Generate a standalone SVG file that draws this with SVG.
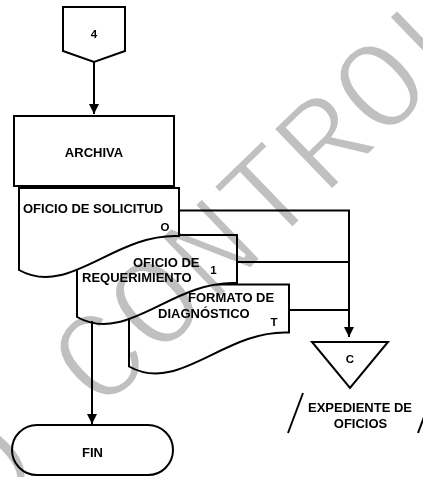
<svg xmlns="http://www.w3.org/2000/svg" width="423" height="477" viewBox="0 0 423 477">
<defs>
<style>
.sh{fill:#fff;stroke:#000;stroke-width:2;stroke-linejoin:miter}
.ln{fill:none;stroke:#000;stroke-width:2}
.t{font-family:"Liberation Sans",Arial,sans-serif;font-weight:bold;font-size:13px;fill:#000}
.s{font-size:11.5px}
.m{text-anchor:middle}
.wm{font-family:"Liberation Mono","Courier New",monospace;font-size:130px;fill:#c0c0c0;stroke:#fff;stroke-width:3.5}
</style>
<marker id="ah" viewBox="0 0 10 10" refX="10" refY="5" markerWidth="10" markerHeight="10" markerUnits="userSpaceOnUse" orient="auto">
<path d="M0,0 L10,5 L0,10 Z" fill="#000"/>
</marker>
</defs>
<rect width="423" height="477" fill="#fff"/>
<g id="n-conector4">
<polygon class="sh" points="63,7 125,7 125,51 94,62 63,51"/>
<text class="t s m" x="94" y="37.5">4</text>
</g>
<g id="n-archiva">
<rect class="sh" x="14" y="116" width="160" height="70"/>
<text class="t m" x="94" y="156.5">ARCHIVA</text>
</g>
<g id="n-formato">
<path class="sh" d="M129,284.5 H289 V332.5 C224,329.5 179,394.5 129,366.5 Z"/>
<text class="t" x="188" y="302">FORMATO DE</text>
<text class="t" x="158" y="318">DIAGNÓSTICO</text>
<text class="t s m" x="274" y="325.5">T</text>
</g>
<g id="n-requerimiento">
<path class="sh" d="M77,235 H237 V283 C172,280 127,345 77,317 Z"/>
<text class="t" x="133" y="266.5">OFICIO DE</text>
<text class="t" x="82" y="282.3">REQUERIMIENTO</text>
<text class="t s m" x="213.5" y="274">1</text>
</g>
<g id="n-solicitud">
<path class="sh" d="M19,188 H179 V236 C114,233 69,298 19,270 Z"/>
<text class="t" x="23" y="212.5">OFICIO DE SOLICITUD</text>
<text class="t s m" x="165" y="230.5">O</text>
</g>
<g id="connectors">
<path class="ln" d="M94,62 V114" marker-end="url(#ah)"/>
<path class="ln" d="M179,210.5 H349 V337" marker-end="url(#ah)"/>
<path class="ln" d="M237,262 H349"/>
<path class="ln" d="M289,310 H349"/>
<path class="ln" d="M92,321 V424" marker-end="url(#ah)"/>
</g>
<g id="n-archivo-c">
<polygon class="sh" points="312,342 388,342 350,388"/>
<text class="t s m" x="350" y="362.7">C</text>
<line class="ln" x1="303" y1="393" x2="288" y2="433"/>
<line class="ln" x1="433" y1="393" x2="418" y2="433"/>
<text class="t m" x="360" y="411.5">EXPEDIENTE DE</text>
<text class="t m" x="360.5" y="427.5">OFICIOS</text>
</g>
<g id="n-fin">
<rect class="sh" x="12" y="425" width="161" height="50" rx="25" ry="25"/>
<text class="t m" x="92.5" y="456.5">FIN</text>
</g>
<g id="watermark" style="mix-blend-mode:multiply">
<text class="wm" transform="translate(-68,577) rotate(-44)" x="0" y="0">NO CONTROL</text>
</g>
</svg>
